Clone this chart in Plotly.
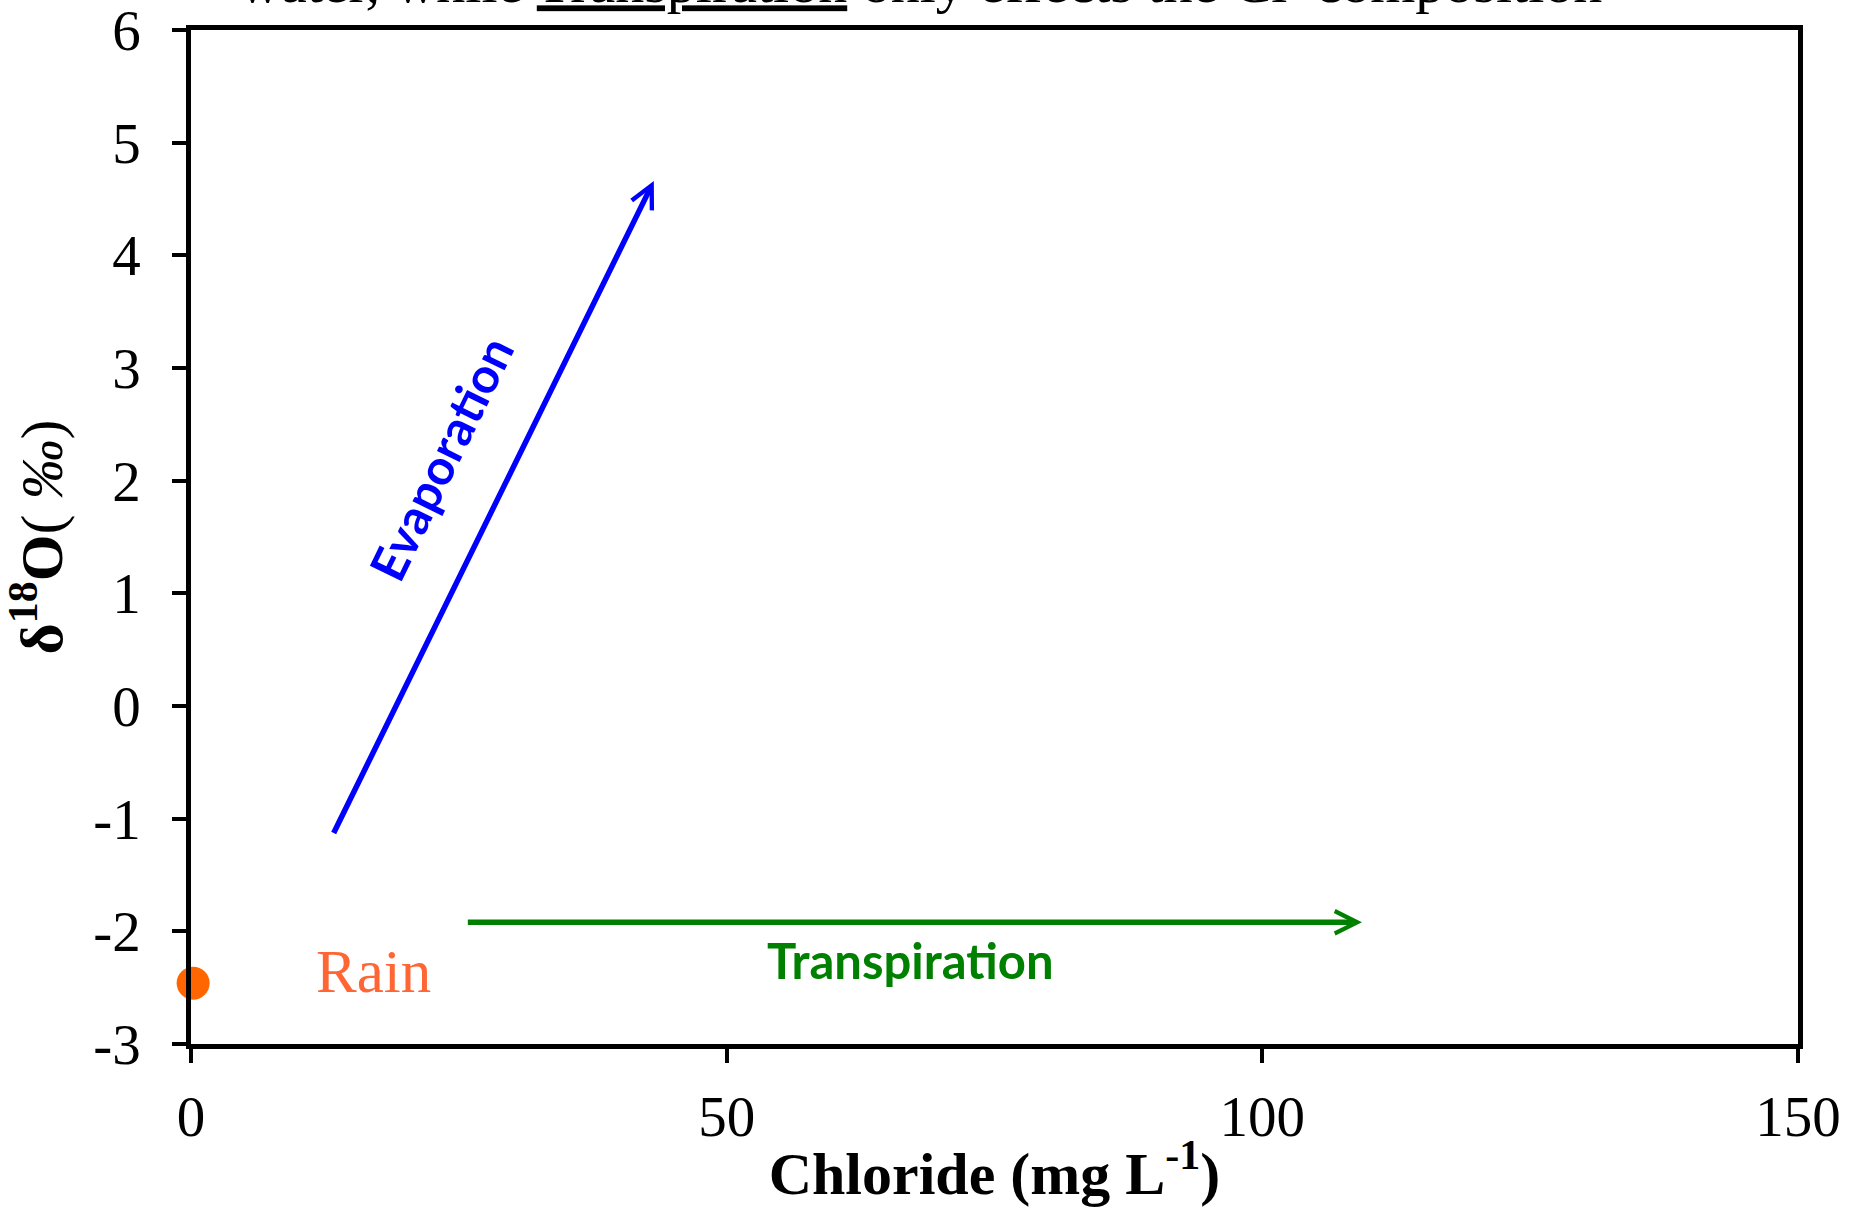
import plotly.graph_objects as go

# ---- data ----
rain_chloride = [0.2]
rain_d18o = [-2.46]

evaporation_chloride = [13.25, 43.2]   # tail, head
evaporation_d18o = [-1.14, 4.66]

transpiration_chloride = [25.7, 109.3]  # tail, head
transpiration_d18o = [-1.92, -1.92]

x_tickvals = [0, 50, 100, 150]
x_ticktext = ["0", "50", "100", "150"]
y_tickvals = [-3, -2, -1, 0, 1, 2, 3, 4, 5, 6]
y_ticktext = ["-3", "-2", "-1", "0", "1", "2", "3", "4", "5", "6"]

labels_text = ["Rain", "Evaporation", "Transpiration"]
labels_x = [17.0, 23.3, 67.2]
labels_y = [-2.36, 2.20, -2.25]

top_caption = ('water, while <span style="text-decoration:underline">Transpiration</span>'
               ' only effects the Cl<sup>-</sup> composition')

SERIF = "Liberation Serif, Times New Roman, serif"
SANS = "Lato, Calibri, Carlito, sans-serif"

fig = go.Figure()

fig.add_trace(go.Scatter(
    x=rain_chloride, y=rain_d18o, mode="markers",
    marker=dict(size=33, color="#FF6600", line=dict(width=0)),
    cliponaxis=False, showlegend=False, hoverinfo="skip",
))

annotations = []
# arrows
annotations.append(dict(
    x=evaporation_chloride[1], y=evaporation_d18o[1],
    ax=evaporation_chloride[0], ay=evaporation_d18o[0],
    xref="x", yref="y", axref="x", ayref="y", text="",
    showarrow=True, arrowhead=5, arrowsize=0.8, arrowwidth=5.5,
    arrowcolor="#0000FF", standoff=0,
))
annotations.append(dict(
    x=transpiration_chloride[1], y=transpiration_d18o[1],
    ax=transpiration_chloride[0], ay=transpiration_d18o[0],
    xref="x", yref="y", axref="x", ayref="y", text="",
    showarrow=True, arrowhead=5, arrowsize=0.8, arrowwidth=5.5,
    arrowcolor="#008000", standoff=0,
))
# labels
annotations.append(dict(
    x=labels_x[0], y=labels_y[0], xref="x", yref="y", text=labels_text[0],
    showarrow=False, font=dict(family=SERIF, size=61, color="#FF6633"),
    xanchor="center", yanchor="middle",
))
annotations.append(dict(
    x=labels_x[1], y=labels_y[1], xref="x", yref="y", text="<b>" + labels_text[1] + "</b>",
    showarrow=False, font=dict(family=SANS, size=49, color="#0000FF"),
    xanchor="center", yanchor="middle", textangle=-64,
))
annotations.append(dict(
    x=labels_x[2], y=labels_y[2], xref="x", yref="y", text="<b>" + labels_text[2] + "</b>",
    showarrow=False, font=dict(family=SANS, size=49, color="#008000"),
    xanchor="center", yanchor="middle",
))
# clipped caption at the very top (cut off in the reference as well)
annotations.append(dict(
    x=0.0286, y=1.0125, xref="paper", yref="paper", text=top_caption,
    showarrow=False, font=dict(family=SERIF, size=58, color="#000000"),
    xanchor="left", yanchor="bottom",
))

fig.update_layout(
    width=1867, height=1207,
    margin=dict(l=191, r=69, t=30, b=163, autoexpand=False),
    paper_bgcolor="white", plot_bgcolor="white",
    showlegend=False,
    annotations=annotations,
)

fig.update_xaxes(
    range=[0, 150], tickvals=x_tickvals, ticktext=x_ticktext,
    showgrid=False, zeroline=False, automargin=False,
    showline=True, linecolor="black", linewidth=4.5, mirror=True,
    ticks="outside", ticklen=14, tickwidth=4, tickcolor="black",
    tickfont=dict(family=SERIF, size=57, color="black"),
    ticklabelstandoff=5, ticklabeloverflow="allow",
    title=dict(text="<b>Chloride (mg L<sup>-1</sup>)</b>",
               font=dict(family=SERIF, size=60, color="black"), standoff=0),
)
fig.update_yaxes(
    range=[-3, 6], tickvals=y_tickvals, ticktext=y_ticktext,
    showgrid=False, zeroline=False, automargin=False,
    showline=True, linecolor="black", linewidth=4.5, mirror=True,
    ticks="outside", ticklen=14, tickwidth=4, tickcolor="black",
    tickfont=dict(family=SERIF, size=57, color="black"),
    ticklabelstandoff=20, ticklabeloverflow="allow",
    title=dict(text="<b>δ<sup>18</sup>O</b>( <i>‰</i>)",
               font=dict(family=SERIF, size=60, color="black"), standoff=18),
)

fig.write_html("out.html", config=dict(displayModeBar=False))
